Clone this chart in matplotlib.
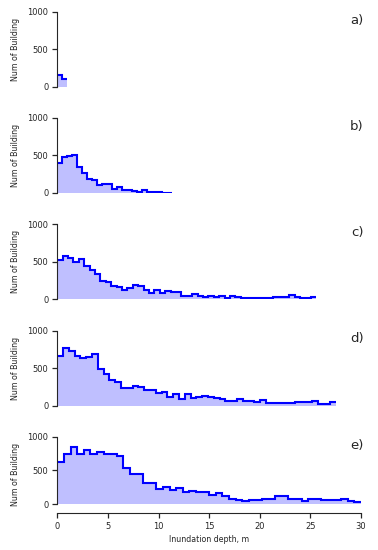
import numpy as np
import matplotlib
matplotlib.use("Agg")
import matplotlib.pyplot as plt

# ---- data (counts per depth bin) ----
panel_labels = ["a)", "b)", "c)", "d)", "e)"]
counts_a = [160, 100]
counts_b = [403, 475, 493, 506, 345, 269, 193, 179, 103, 125, 116, 58, 81,
            45, 45, 22, 13, 36, 13, 8, 8, 5, 3]
counts_c = [522, 575, 553, 500, 535, 446, 388, 334, 245, 223, 178, 165, 120,
            143, 183, 174, 120, 76, 129, 76, 111, 94, 94, 45, 45, 67, 40, 31,
            40, 25, 45, 22, 45, 35, 22, 15, 15, 15, 15, 15, 27, 27, 30, 50,
            35, 22, 18, 30]
counts_d = [659, 762, 726, 663, 627, 645, 681, 493, 421, 345, 314, 233, 233,
            260, 242, 206, 202, 166, 179, 112, 157, 90, 148, 99, 108, 121, 110,
            99, 81, 54, 60, 90, 54, 54, 45, 75, 36, 36, 36, 27, 27, 50, 50, 45,
            63, 18, 18, 45]
counts_e = [620, 740, 840, 750, 795, 740, 770, 745, 740, 720, 535, 440, 440,
            305, 305, 225, 255, 215, 245, 180, 188, 178, 175, 128, 158, 113, 79,
            59, 49, 64, 64, 74, 69, 113, 113, 79, 79, 49, 79, 79, 59, 59, 59,
            69, 49, 30]
max_depth = [1.0, 11.29, 25.6, 27.5, 30.0]   # upper edge of last bin (m)
y_ticks = [0, 500, 1000]
x_ticks = [0, 5, 10, 15, 20, 25, 30]
ylabel = "Num of Building"
xlabel = "Inundation depth, m"

all_counts = [counts_a, counts_b, counts_c, counts_d, counts_e]

dark = "#262626"
plt.rcParams.update({
    "font.family": "DejaVu Sans",
    "axes.edgecolor": dark,
    "text.color": dark,
    "xtick.color": dark,
    "ytick.color": dark,
    "axes.labelcolor": dark,
})

fig = plt.figure(figsize=(3.78, 5.5), dpi=100)
W, H = 378.0, 550.0
left = 57.3 / W
width = (361.0 - 57.3) / W
tops = [11.7, 118.0, 224.2, 330.5, 436.7]

for i, (counts, xmax, lab) in enumerate(zip(all_counts, max_depth, panel_labels)):
    last = (i == 4)
    hpx = 76.0 if last else 75.0
    top = tops[i]
    ax = fig.add_axes([left, 1 - (top + hpx) / H, width, hpx / H])
    edges = np.linspace(0, xmax, len(counts) + 1)
    ax.stairs(counts, edges, fill=True, color="blue", alpha=0.25, linewidth=0)
    ax.stairs(counts, edges, baseline=None, color="blue", linewidth=1.5)
    ax.set_xlim(0, 30)
    if last:
        ax.set_ylim(-129, 1000)
    else:
        ax.set_ylim(0, 1000)
    ax.set_yticks(y_ticks)
    ax.spines["top"].set_visible(False)
    ax.spines["right"].set_visible(False)
    ax.spines["left"].set_bounds(0, 1000)
    ax.tick_params(axis="y", labelsize=6, length=3.5, width=0.9, pad=3)
    ax.set_ylabel(ylabel, fontsize=5.7, labelpad=5)
    if last:
        ax.set_xticks(x_ticks)
        ax.tick_params(axis="x", labelsize=6, length=3.5, width=0.9, pad=3)
        ax.set_xlabel(xlabel, fontsize=5.7, labelpad=3)
    else:
        ax.spines["bottom"].set_visible(False)
        ax.set_xticks([])
    ax.text(1.008, 0.975, lab, transform=ax.transAxes, ha="right", va="top",
            fontsize=9.5)

fig.savefig("out.png", dpi=100)
